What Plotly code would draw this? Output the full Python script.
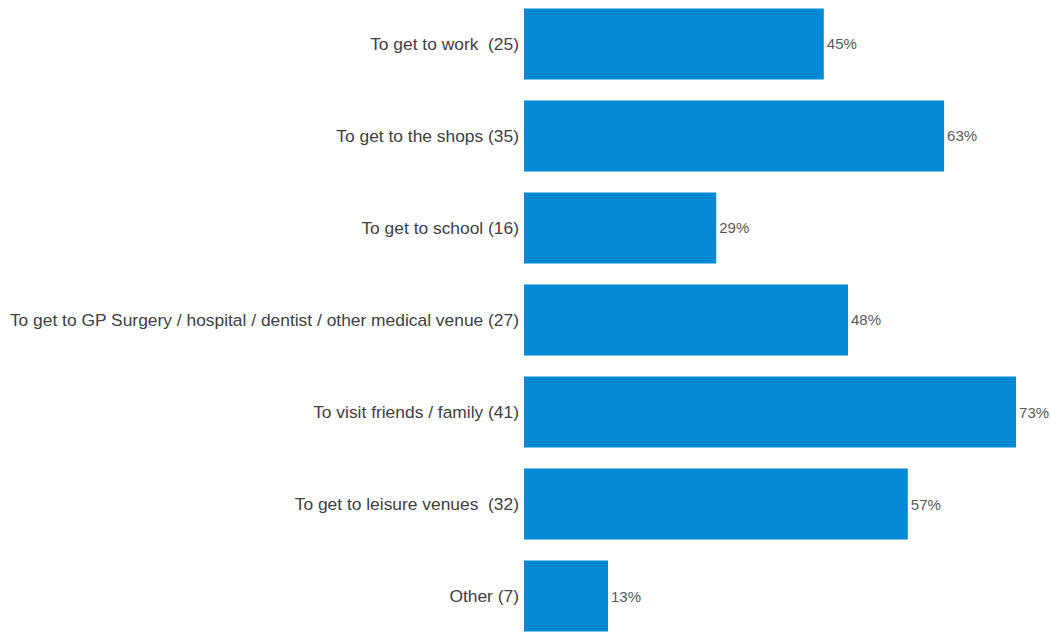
import plotly.graph_objects as go

categories = [
    "To get to work\u00a0 (25)",
    "To get to the shops (35)",
    "To get to school (16)",
    "To get to GP Surgery / hospital / dentist / other medical venue (27)",
    "To visit friends / family (41)",
    "To get to leisure venues\u00a0 (32)",
    "Other (7)",
]
values = [0.446, 0.625, 0.286, 0.482, 0.732, 0.571, 0.125]
value_labels = ["45%", "63%", "29%", "48%", "73%", "57%", "13%"]

fig = go.Figure(go.Bar(
    x=values,
    y=categories,
    orientation="h",
    marker=dict(color="#0689D4", line=dict(width=0)),
    text=value_labels,
    textposition="outside",
    cliponaxis=False,
    hoverinfo="skip",
    textfont=dict(family="Liberation Sans, Arial", size=15, color="#595959"),
))

fig.update_layout(
    width=1051,
    height=633,
    margin=dict(l=524, r=0, t=0, b=0, pad=0),
    plot_bgcolor="white",
    paper_bgcolor="white",
    bargap=0.228,
    showlegend=False,
    xaxis=dict(range=[0, 0.784], visible=False, showgrid=False, zeroline=False),
    yaxis=dict(
        range=[6.402, -0.478],
        showgrid=False,
        zeroline=False,
        showline=False,
        ticks="",
        ticklabelstandoff=4,
        tickfont=dict(family="Liberation Sans, Arial", size=17.4, color="#404040"),
    ),
)

fig.write_html(
    "out.html",
    config={"displayModeBar": False},
    post_script="document.body.style.margin='0';document.body.style.overflow='hidden';",
)
